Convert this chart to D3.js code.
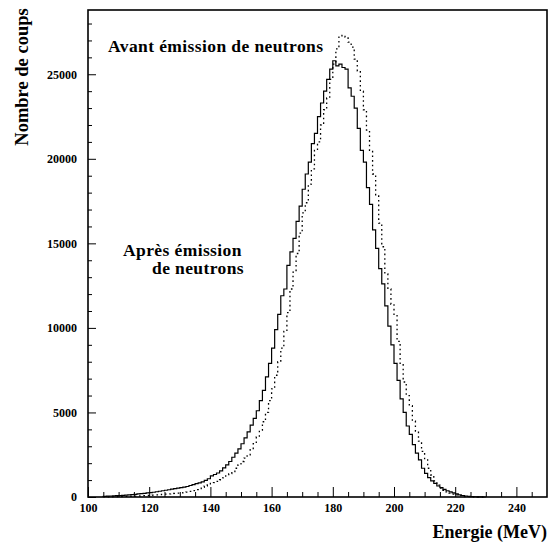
<!DOCTYPE html>
<html>
<head>
<meta charset="utf-8">
<script src="https://cdn.jsdelivr.net/npm/d3@7"></script>
<style>
  body { margin: 0; background: #fff; }
  text { font-family: "Liberation Serif", "DejaVu Serif", serif; font-weight: bold; fill: #000; }
</style>
</head>
<body>
<svg width="548" height="543"></svg>
<script>
// 1 MeV bins starting at 105 MeV
const binStart = 105;
const binWidth = 1;

// "Après émission de neutrons" (solid)
const apres = [
  40, 50, 60, 70, 80, 90, 100, 115, 130, 145,
  160, 180, 200, 220, 240, 260, 280, 310, 340, 370,
  400, 430, 460, 490, 520, 550, 580, 620, 680, 730,
  790, 840, 900, 980, 1080, 1250, 1330, 1420, 1550, 1720,
  1900, 2100, 2350, 2600, 2850, 3150, 3500, 3850, 4250, 4650,
  5100, 5700, 6300, 7100, 7900, 8800, 9900, 10800, 11900, 12300,
  13700, 14500, 15300, 16300, 17200, 18200, 19100, 19800, 20900, 21500,
  22500, 23300, 24000, 24700, 25300, 25800, 25500, 25600, 25400, 25300,
  24200, 23700, 23000, 21800, 20500, 19800, 18300, 17300, 15800, 14700,
  13500, 12600, 11300, 10100, 9000, 7900, 6900, 5800, 5000, 4200,
  3700, 3100, 2600, 2200, 1700, 1400, 1150, 950, 800, 650,
  550, 450, 370, 300, 240, 180, 130, 90, 60, 40,
  25, 15, 10, 5, 0
];

// "Avant émission de neutrons" (dotted)
const avant = [
  10, 12, 15, 18, 22, 25, 30, 35, 40, 45,
  50, 60, 70, 80, 90, 100, 110, 120, 135, 150,
  165, 180, 195, 210, 225, 240, 260, 290, 330, 380,
  440, 500, 570, 650, 730, 800, 850, 920, 1020, 1130,
  1250, 1380, 1500, 1700, 1900, 2100, 2300, 2500, 2800, 3150,
  3550, 3950, 4450, 5000, 5700, 6400, 7200, 8000, 8800, 9800,
  10900, 12300, 13300, 14400, 15600, 16800, 17400, 18500, 19400, 20500,
  21000, 22000, 22900, 23600, 24700, 25600, 26500, 27200, 27300, 27200,
  26900, 26600, 25900, 25200, 24000, 22900, 21700, 20500, 19100, 17800,
  16200, 14800, 13200, 12300, 11400, 10800, 9200, 7900, 6800, 6000,
  5400, 4500, 3900, 3300, 2700, 2200, 1700, 1300, 950, 700,
  520, 400, 300, 230, 170, 120, 80, 50, 30, 20,
  10, 5, 0, 0, 0
];

const xTicks = [100, 120, 140, 160, 180, 200, 220, 240];
const yTicks = [0, 5000, 10000, 15000, 20000, 25000];

const mLeft = 88, mRight = 547, mTop = 10, mBottom = 497;

const svg = d3.select("svg");

const x = d3.scaleLinear().domain([100, 250]).range([mLeft, mRight]);
const y = d3.scaleLinear().domain([0, 28800]).range([mBottom, mTop]);

// minor ticks
const xMinor = d3.range(100, 250, 5).filter(v => !xTicks.includes(v));
const yMinor = d3.range(0, 28800, 1000).filter(v => !yTicks.includes(v));

svg.append("g")
  .attr("transform", "translate(0," + mBottom + ")")
  .call(d3.axisBottom(x).tickValues(xMinor).tickSize(-5).tickFormat(""))
  .call(g => g.select(".domain").remove());

svg.append("g")
  .attr("transform", "translate(" + mLeft + ",0)")
  .call(d3.axisLeft(y).tickValues(yMinor).tickSize(-4).tickFormat(""))
  .call(g => g.select(".domain").remove());

const xAxis = svg.append("g")
  .attr("transform", "translate(0," + mBottom + ")")
  .call(d3.axisBottom(x).tickValues(xTicks).tickSize(-10).tickFormat(d3.format("d")));
xAxis.select(".domain").remove();
xAxis.selectAll("text").attr("font-size", 12).attr("y", 6).attr("dy", "0.75em");

const yAxis = svg.append("g")
  .attr("transform", "translate(" + mLeft + ",0)")
  .call(d3.axisLeft(y).tickValues(yTicks).tickSize(-8).tickFormat(d3.format("d")));
yAxis.select(".domain").remove();
yAxis.selectAll("text").attr("font-size", 12).attr("x", -11);

svg.selectAll(".tick line").attr("stroke", "#000").attr("stroke-width", 1);

// frame
svg.append("rect")
  .attr("x", mLeft).attr("y", mTop)
  .attr("width", mRight - mLeft).attr("height", mBottom - mTop)
  .attr("fill", "none").attr("stroke", "#000").attr("stroke-width", 1.6);

// histogram step lines
function steps(values) {
  const pts = [[binStart, 0]];
  values.forEach((v, i) => {
    const e = binStart + i * binWidth;
    pts.push([e, v]);
    pts.push([e + binWidth, v]);
  });
  return pts;
}
const line = d3.line().x(d => x(d[0])).y(d => y(d[1]));

svg.append("path")
  .attr("d", line(steps(avant)))
  .attr("fill", "none").attr("stroke", "#000")
  .attr("stroke-width", 1.3).attr("stroke-dasharray", "1.6,3");

svg.append("path")
  .attr("d", line(steps(apres)))
  .attr("fill", "none").attr("stroke", "#000")
  .attr("stroke-width", 1.2);

// annotations
const note = (tx, ty, s) => svg.append("text")
  .attr("x", tx).attr("y", ty).attr("font-size", 17.5)
  .attr("letter-spacing", 0.4).text(s);
note(108, 52, "Avant émission de neutrons");
note(123, 256, "Après émission");
note(152, 274, "de neutrons");

// axis titles
svg.append("text")
  .attr("transform", "translate(28,77) rotate(-90)")
  .attr("text-anchor", "middle").attr("font-size", 18.5)
  .text("Nombre de coups");
svg.append("text")
  .attr("x", 547).attr("y", 538).attr("text-anchor", "end").attr("font-size", 18)
  .text("Energie (MeV)");
</script>
</body>
</html>
